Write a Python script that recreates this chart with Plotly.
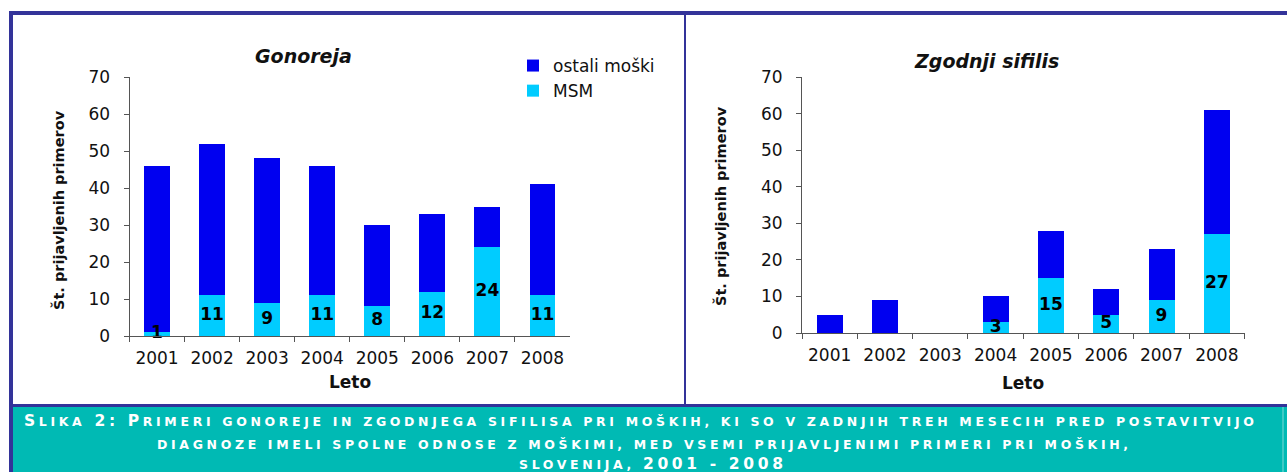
import plotly.graph_objects as go

W, H = 1287, 472

years = ["2001", "2002", "2003", "2004", "2005", "2006", "2007", "2008"]
gon_msm = [1, 11, 9, 11, 8, 12, 24, 11]
gon_other = [45, 41, 39, 35, 22, 21, 11, 30]
sif_msm = [0, 0, 0, 3, 15, 5, 9, 27]
sif_other = [5, 9, 0, 7, 13, 7, 14, 34]
y_ticks = [0, 10, 20, 30, 40, 50, 60, 70]

name_other = "ostali moški"
name_msm = "MSM"
title_left = "Gonoreja"
title_right = "Zgodnji sifilis"
y_title = "Št. prijavljenih primerov"
x_title = "Leto"

DARK = "#0000F0"
LIGHT = "#00CCFF"
FRAME = "#333399"
TEAL = "#00BAB4"
FONT = "Verdana, DejaVu Sans, sans-serif"


def px(x):
    return x / W


def py(y):
    return (H - y) / H


fig = go.Figure()

for msm, other, xa, ya, show in [
    (gon_msm, gon_other, "x", "y", True),
    (sif_msm, sif_other, "x2", "y2", False),
]:
    fig.add_trace(go.Bar(x=years, y=msm, name=name_msm, marker_color=LIGHT,
                         marker_line_width=0, xaxis=xa, yaxis=ya,
                         showlegend=show, legendrank=2, hoverinfo="skip"))
    fig.add_trace(go.Bar(x=years, y=other, name=name_other, marker_color=DARK,
                         marker_line_width=0, xaxis=xa, yaxis=ya,
                         showlegend=show, legendrank=1, hoverinfo="skip"))
    lx = [yr for yr, v in zip(years, msm) if v > 0]
    ly = [v / 2 for v in msm if v > 0]
    lt = [str(v) for v in msm if v > 0]
    fig.add_trace(go.Scatter(x=lx, y=ly, text=lt, mode="text", xaxis=xa, yaxis=ya,
                             textfont=dict(family=FONT, size=17, color="black", weight="bold"),
                             showlegend=False, hoverinfo="skip", cliponaxis=False))

axis_common = dict(showline=True, linecolor="#555555", linewidth=1, ticks="outside",
                   ticklen=5, tickcolor="#555555", showgrid=False, zeroline=False,
                   automargin=False,
                   tickfont=dict(family=FONT, size=17, color="#111111"))

fig.update_layout(
    width=W, height=H, autosize=False,
    margin=dict(l=0, r=0, t=0, b=0, pad=0, autoexpand=False),
    paper_bgcolor="white", plot_bgcolor="white",
    barmode="stack", bargap=0.53,
    font=dict(family=FONT, color="#111111"),
    xaxis=dict(domain=[px(129.5), px(570)], anchor="y", tickson="boundaries",
               ticklabelstandoff=7, **axis_common),
    yaxis=dict(domain=[py(336), py(77)], anchor="x", range=[0, 70], tickvals=y_ticks,
               ticklabelstandoff=10, **axis_common),
    xaxis2=dict(domain=[px(802), px(1244.5)], anchor="y2", tickson="boundaries",
                ticklabelstandoff=7, **axis_common),
    yaxis2=dict(domain=[py(333), py(77)], anchor="x2", range=[0, 70], tickvals=y_ticks,
                ticklabelstandoff=10, **axis_common),
    legend=dict(x=px(513), y=py(48), xanchor="left", yanchor="top", traceorder="normal",
                font=dict(family=FONT, size=17, color="#111111"),
                bgcolor="rgba(0,0,0,0)", itemclick=False, tracegroupgap=0),
)

# frame and caption box
shapes = [
    dict(type="rect", xref="paper", yref="paper", x0=px(13), x1=1, y0=0, y1=py(406),
         fillcolor=TEAL, line_width=0, layer="below"),
    dict(type="line", xref="paper", yref="paper", x0=px(1283), x1=px(1283), y0=0, y1=py(407),
         line=dict(color="#7fdcd8", width=1)),
    dict(type="line", xref="paper", yref="paper", x0=px(9), x1=1, y0=py(13), y1=py(13),
         line=dict(color=FRAME, width=4)),
    dict(type="line", xref="paper", yref="paper", x0=px(11), x1=px(11), y0=0, y1=py(11),
         line=dict(color=FRAME, width=4)),
    dict(type="line", xref="paper", yref="paper", x0=px(685), x1=px(685), y0=py(405), y1=py(13),
         line=dict(color=FRAME, width=2)),
    dict(type="line", xref="paper", yref="paper", x0=px(9), x1=1, y0=py(405.5), y1=py(405.5),
         line=dict(color=FRAME, width=3)),
]
fig.update_layout(shapes=shapes)

ann = []


def add_text(text, xc, yc, size, angle=0, color="#111111"):
    ann.append(dict(text=text, x=px(xc), y=py(yc), xref="paper", yref="paper",
                    xanchor="center", yanchor="middle", textangle=angle,
                    showarrow=False, font=dict(family=FONT, size=size, color=color)))


add_text("<b><i>" + title_left + "</i></b>", 303, 56, 19)
add_text("<b><i>" + title_right + "</i></b>", 986, 61, 19)
for xc, yc in [(58, 210), (721, 206)]:
    add_text("<b>" + y_title + "</b>", xc, yc, 14.5, angle=-90)
for xc, yc in [(350, 382), (1023, 383)]:
    add_text("<b>" + x_title + "</b>", xc, yc, 17)

BIG = 15.5
SMALL = 12.5
LS = 3.65


def seg(t, size):
    return "<span style='font-size:%spx;letter-spacing:%spx'>%s</span>" % (size, LS, t)


cap1 = (seg("S", BIG) + seg("LIKA", SMALL) + seg(" 2: P", BIG)
        + seg("RIMERI GONOREJE IN ZGODNJEGA SIFILISA PRI MOŠKIH, KI SO V ZADNJIH TREH MESECIH PRED POSTAVITVIJO", SMALL))
cap2 = seg("DIAGNOZE IMELI SPOLNE ODNOSE Z MOŠKIMI, MED VSEMI PRIJAVLJENIMI PRIMERI PRI MOŠKIH,", SMALL)
cap3 = seg("SLOVENIJA, ", SMALL) + seg("2001 - 2008", BIG)
for t, xc, yc in [(cap1, 640, 421), (cap2, 644, 444), (cap3, 653, 464)]:
    add_text("<b>" + t + "</b>", xc, yc, SMALL, color="white")

fig.update_layout(annotations=ann)

fig.write_html(
    "out.html",
    config={"displayModeBar": False},
    post_script="document.body.style.margin='0';document.body.style.overflow='hidden';",
)
